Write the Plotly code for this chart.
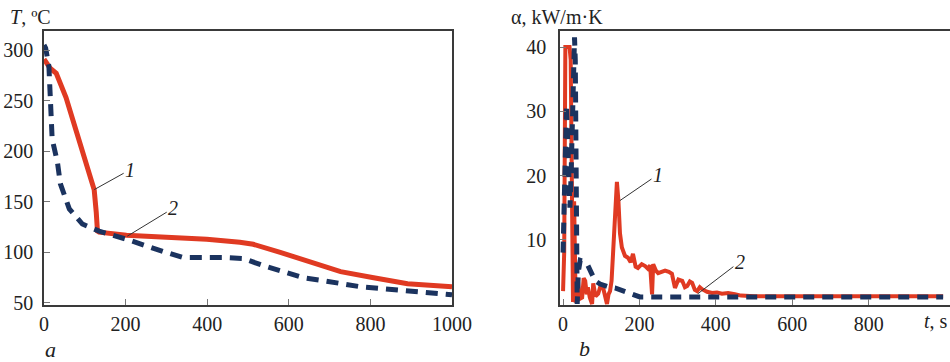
import plotly.graph_objects as go

# ---------------- data ----------------
# Panel a: temperature T (ºC) vs time t (s)
a_red_t = [0, 5, 15, 30, 54, 79, 103, 115, 123, 128, 131, 135, 160, 202, 300, 399, 480, 513, 579, 645, 727, 808, 891, 1000]
a_red_T = [291, 288, 282, 277, 253, 220, 188, 172, 162, 140, 121, 120, 119, 117, 115, 113, 110, 108, 100, 91, 81, 75, 69, 66]

a_blue_t = [0, 4, 12, 16, 20, 33, 40, 62, 94, 135, 202, 291, 340, 438, 488, 537, 586, 635, 685, 776, 833, 931, 1000]
a_blue_T = [305, 302, 284, 251, 212, 189, 168, 143, 128, 121, 113, 101, 95, 95, 94, 87, 81, 75, 72, 66, 64, 61, 58]

# Panel b: heat transfer coefficient alpha (kW/m·K) vs time t (s)
b_red_t = [0, 3, 6, 17, 20, 22, 24, 26, 29, 31, 33, 36, 39, 44, 50, 54, 58, 62, 65, 70, 76, 79, 85, 92, 98,
           105, 110, 115, 119, 123, 127, 131, 135, 139, 141, 145, 149, 154, 162, 170, 177, 183, 190, 196, 206,
           215, 222, 228, 231, 233, 236, 243, 249, 258, 267, 277, 285, 293, 302, 312, 319, 325, 332, 338, 345,
           351, 358, 364, 377, 390, 403, 416, 432, 450, 466, 500, 600, 700, 800, 900, 995]
b_red_a = [2, 8, 40, 40, 38, 27, 12, 0.3, 16, 7, 0.2, 3, 3.6, 0.8, 1, 4, 3.6, 1.5, 2.6, 1.0, 0, 3.2, 1.2, 1.6, 2.8,
           2.5, 0.8, 0, 1.5, 2.0, 3.6, 8, 14, 18.5, 19, 16, 11, 8.8, 7.5, 7.2, 6.5, 7.8, 5.8, 5.6, 6.2,
           5.9, 5.5, 6.0, 3, 1.5, 6.2, 5.2, 4.8, 5.0, 5.2, 5.0, 4.7, 2.5, 3.8, 3.6, 2.6, 2.8, 3.5, 3.3, 2.2,
           2.0, 2.6, 2.3, 1.9, 1.7, 1.8, 1.6, 1.7, 1.5, 1.3, 1.2, 1.2, 1.2, 1.2, 1.2, 1.2]

b_blue_t = [0, 3, 6, 9, 12, 15, 18, 21, 24, 27, 30, 32, 34, 36, 37, 40, 45, 50, 58, 65, 75, 84, 97, 110, 123,
            136, 149, 162, 175, 188, 201, 215, 300, 400, 500, 600, 700, 800, 900, 995]
b_blue_a = [8, 18, 27, 31, 26, 20, 15, 20, 28, 33, 41.5, 38, 25, 8, 0, 5, 6.8, 6.7, 6.5, 6.0, 4.5, 3.6, 3.1, 2.8, 2.6,
            2.5, 2.2, 2.0, 1.6, 1.25, 1.1, 1.1, 1.1, 1.1, 1.1, 1.1, 1.1, 1.1, 1.1, 1.1]

a_xticks = [0, 200, 400, 600, 800, 1000]
a_yticks = [50, 100, 150, 200, 250, 300]
b_xticks = [0, 200, 400, 600, 800]
b_yticks = [10, 20, 30, 40]

# ---------------- style ----------------
W, H = 950, 362
RED = "#E03A22"
BLUE = "#1B335F"
AXC = "#3a3a3a"
FONT = "Liberation Serif"
FS = 20

def px(x):
    return x / W

def py(y):
    return 1 - y / H

fig = go.Figure()

fig.add_trace(go.Scatter(x=a_red_t, y=a_red_T, mode="lines", line=dict(color=RED, width=5),
                         xaxis="x", yaxis="y", showlegend=False))
fig.add_trace(go.Scatter(x=a_blue_t, y=a_blue_T, mode="lines", line=dict(color=BLUE, width=5, dash="12px,8px"),
                         xaxis="x", yaxis="y", showlegend=False))
fig.add_trace(go.Scatter(x=b_red_t, y=b_red_a, mode="lines", line=dict(color=RED, width=4),
                         xaxis="x2", yaxis="y2", showlegend=False))
fig.add_trace(go.Scatter(x=b_blue_t, y=b_blue_a, mode="lines", line=dict(color=BLUE, width=5, dash="11px,8px"),
                         xaxis="x2", yaxis="y2", showlegend=False))

axis_common = dict(showgrid=False, zeroline=False, showline=True, linecolor=AXC, linewidth=1.5,
                   ticks="inside", ticklen=6, tickwidth=1, tickcolor="#777", automargin=False,
                   tickfont=dict(family=FONT, size=FS, color="#222"))

ydom = [py(305), py(31)]

fig.update_layout(
    width=W, height=H,
    margin=dict(l=0, r=0, t=0, b=0),
    paper_bgcolor="white", plot_bgcolor="white",
    font=dict(family=FONT, size=FS, color="#222"),
    xaxis=dict(domain=[px(44), px(452)], range=[0, 1000], tickvals=a_xticks, mirror=True,
               anchor="y", **axis_common),
    yaxis=dict(domain=ydom, range=[48, 318.8], tickvals=a_yticks, mirror=True,
               anchor="x", ticklabelstandoff=5, **axis_common),
    xaxis2=dict(domain=[px(560), 1.0], range=[-8, 1013], tickvals=b_xticks, mirror=True,
                anchor="y2", **axis_common),
    yaxis2=dict(domain=ydom, range=[-0.16, 42.5], tickvals=b_yticks, mirror=False,
                anchor="x2", ticklabelstandoff=8, **axis_common),
)

ann = []
# axis titles and panel labels
ann.append(dict(text="<i>T</i>, ºC", x=px(8), y=py(17), xref="paper", yref="paper",
                xanchor="left", yanchor="middle", showarrow=False, font=dict(family=FONT, size=FS)))
ann.append(dict(text="α, kW/m·K", x=px(509), y=py(17), xref="paper", yref="paper",
                xanchor="left", yanchor="middle", showarrow=False, font=dict(family=FONT, size=FS)))
ann.append(dict(text="<i>t</i>, s", x=px(950), y=py(321), xref="paper", yref="paper",
                xanchor="right", yanchor="middle", showarrow=False, font=dict(family=FONT, size=FS)))
ann.append(dict(text="<i>a</i>", x=px(50), y=py(349), xref="paper", yref="paper",
                xanchor="center", yanchor="middle", showarrow=False, font=dict(family=FONT, size=22)))
ann.append(dict(text="<i>b</i>", x=px(584), y=py(348), xref="paper", yref="paper",
                xanchor="center", yanchor="middle", showarrow=False, font=dict(family=FONT, size=22)))

# curve labels with leader lines
lab = dict(showarrow=True, arrowhead=0, arrowwidth=1, arrowcolor="#333",
           font=dict(family=FONT, size=FS, color="#222"))
ann.append(dict(text="<i>1</i>", x=123, y=162, xref="x", yref="y", ax=36, ay=-20, **lab))
ann.append(dict(text="<i>2</i>", x=204, y=116, xref="x", yref="y", ax=46, ay=-28, **lab))
ann.append(dict(text="<i>1</i>", x=149, y=16.1, xref="x2", yref="y2", ax=38, ay=-26, **lab))
ann.append(dict(text="<i>2</i>", x=353, y=1.6, xref="x2", yref="y2", ax=42, ay=-32, **lab))

fig.update_layout(annotations=ann)

fig.write_html(
    "out.html",
    config={"displayModeBar": False},
    post_script="document.body.style.margin='0';document.body.style.overflow='hidden';",
)
